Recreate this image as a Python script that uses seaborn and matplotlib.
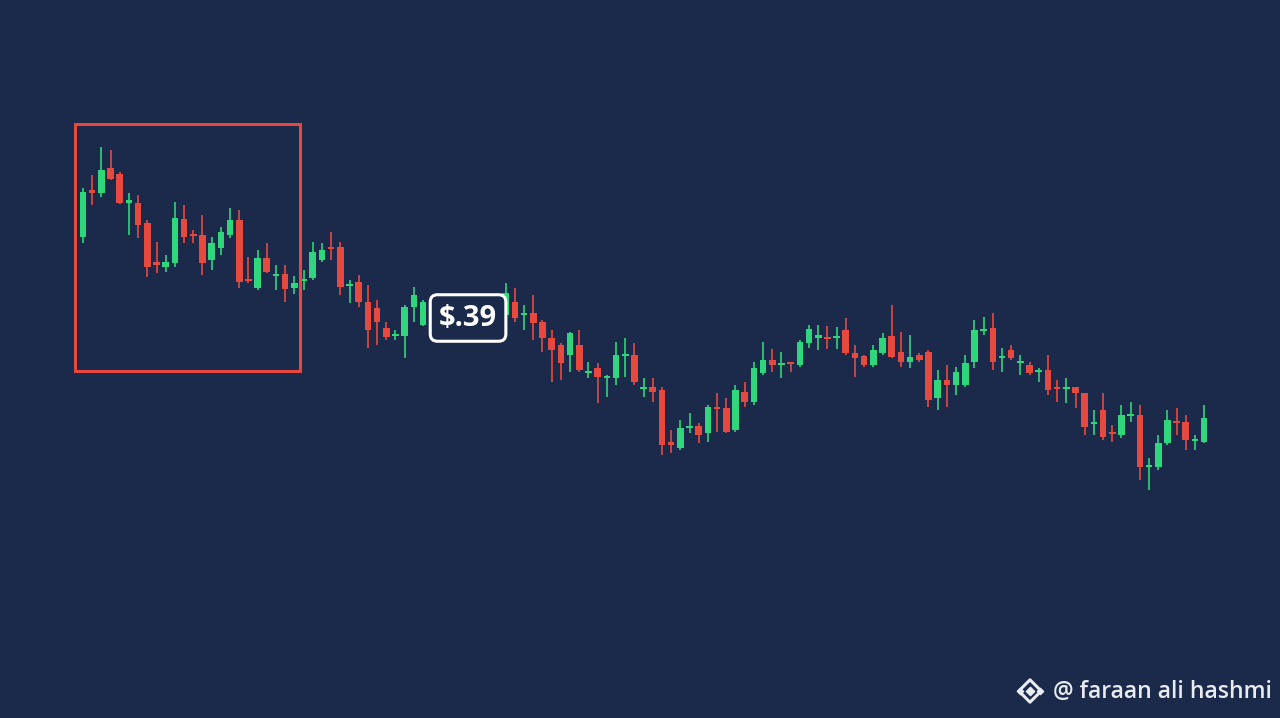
import numpy as np
import matplotlib
matplotlib.use("Agg")
import matplotlib.pyplot as plt
import matplotlib.patches as patches
import seaborn as sns

# Colours
bg = "#1b2a4a"
up_color = "#2fd67b"
down_color = "#e8493f"

nan = np.nan

# OHLC prices (8 candles hidden behind the price tag)
opens = [.471, .517, .515, .540, .534, .505, .505, .485, .446, .441,
         .445, .489, .474, .473, .448, .460, .473, .488, .429, .420,
         .450, .432, .434, .420, .427, .430, .448, .461, .461, .422,
         .426, .406, .400, .380, .372, .372, .401, .383, nan, nan,
         nan, nan, nan, nan, nan, nan, .393, .406, .393, .395,
         .386, .370, .363, .353, .363, .335, .340, .330, .330, .352,
         .353, .319, .321, .318, .266, .260, .280, .282, .275, .301,
         .300, .278, .316, .306, .335, .348, .343, .346, .343, .365,
         .370, .371, .370, .378, .355, .352, .343, .355, .372, .356,
         .346, .353, .356, .310, .328, .323, .323, .346, .377, .380,
         .350, .358, .345, .343, .336, .338, .321, .319, .321, .315,
         .284, .298, .276, .273, .292, .293, .241, .241, .265, .287,
         .286, .267, .266]
highs = [.520, .533, .561, .558, .536, .515, .513, .488, .466, .453,
         .506, .503, .478, .493, .471, .481, .500, .498, .451, .458,
         .465, .443, .443, .432, .438, .466, .465, .476, .466, .428,
         .433, .423, .408, .386, .378, .403, .421, .408, nan, nan,
         nan, nan, nan, nan, nan, nan, .425, .420, .403, .413,
         .388, .378, .365, .376, .378, .346, .345, .333, .366, .370,
         .365, .330, .330, .321, .278, .288, .295, .285, .303, .315,
         .310, .323, .326, .346, .366, .359, .356, .346, .368, .383,
         .383, .382, .381, .390, .363, .353, .363, .375, .403, .376,
         .373, .355, .358, .338, .343, .341, .353, .388, .391, .395,
         .360, .363, .353, .346, .340, .353, .328, .330, .321, .315,
         .298, .315, .283, .303, .306, .303, .250, .273, .298, .300,
         .293, .273, .303]
lows = [.465, .503, .511, .528, .504, .473, .470, .431, .435, .436,
        .441, .465, .465, .433, .438, .453, .470, .420, .425, .418,
        .435, .418, .406, .414, .418, .428, .446, .448, .413, .405,
        .401, .360, .363, .368, .368, .350, .386, .382, nan, nan,
        nan, nan, nan, nan, nan, nan, .391, .386, .378, .368,
        .356, .326, .328, .336, .336, .330, .305, .311, .323, .331,
        .323, .311, .306, .253, .255, .258, .275, .265, .266, .276,
        .275, .276, .301, .303, .333, .336, .330, .336, .341, .360,
        .358, .359, .359, .353, .331, .341, .341, .353, .350, .341,
        .340, .346, .301, .298, .301, .313, .321, .340, .373, .338,
        .336, .348, .333, .333, .326, .313, .306, .305, .300, .273,
        .273, .268, .266, .270, .286, .228, .218, .238, .263, .273,
        .258, .258, .265]
closes = [.516, .515, .538, .529, .505, .508, .483, .441, .443, .446,
          .490, .471, .472, .445, .465, .476, .488, .426, .427, .450,
          .436, .434, .419, .425, .429, .456, .458, .459, .421, .424,
          .406, .378, .386, .371, .374, .401, .413, .406, nan, nan,
          nan, nan, nan, nan, nan, nan, .415, .390, .395, .385,
          .370, .358, .345, .375, .338, .337, .331, .332, .353, .354,
          .326, .321, .316, .263, .263, .280, .282, .273, .301, .299,
          .276, .318, .306, .340, .348, .343, .345, .344, .366, .379,
          .373, .369, .372, .355, .350, .343, .358, .370, .351, .346,
          .351, .348, .308, .328, .323, .336, .345, .378, .379, .346,
          .352, .350, .347, .335, .338, .318, .319, .321, .315, .281,
          .286, .271, .274, .293, .294, .241, .243, .265, .288, .285,
          .268, .269, .290]

tag_price = 0.39
watermark = "@ faraan ali hashmi"

o = np.array(opens)
h = np.array(highs)
l = np.array(lows)
c = np.array(closes)
x = np.arange(len(o))
ok = ~np.isnan(o)
x, o, h, l, c = x[ok], o[ok], h[ok], l[ok], c[ok]
colors = np.where(c >= o, up_color, down_color)

sns.set_theme(style="dark", rc={"axes.facecolor": bg, "figure.facecolor": bg})
plt.rcParams['font.family'] = ['Open Sans', 'DejaVu Sans']

fig = plt.figure(figsize=(12.8, 7.18), dpi=100)
ax = fig.add_axes([0, 0, 1, 1])

# wicks and bodies
ax.vlines(x, l, h, colors=colors, linewidth=1.2)
body = np.maximum(np.abs(c - o), 0.0025)
ax.bar(x, body, bottom=np.minimum(o, c), width=0.72, color=colors, linewidth=0)

ax.set_xlim(-9.03, 130.25)
ax.set_ylim(-0.010, 0.708)
ax.axis("off")

# highlight box around the first candles
ax.add_patch(patches.Rectangle((-0.9, 0.337), 24.5, 0.247, fill=False,
                               edgecolor=down_color, linewidth=2.2, zorder=5))

# price tag
ax.text(41.9, tag_price, "$.39", ha="center", va="center", fontsize=21,
        fontweight="bold", color="white", zorder=6,
        bbox=dict(boxstyle="round,pad=0.3,rounding_size=0.25", fc=bg,
                  ec="white", lw=2.2))

# watermark
fig.text(1272 / 1280, 1 - 698 / 718, watermark, ha="right", va="baseline",
         fontsize=16.6, fontweight="semibold", color="#e8ebf0")
lx, ly = 1030 / 1280, 1 - 691 / 718
fig_tr = fig.transFigure
ax.scatter([lx], [ly], marker="D", s=130, facecolors="none",
           edgecolors="#e8ebf0", linewidths=2.2, transform=fig_tr, clip_on=False)
ax.scatter([lx], [ly], marker="D", s=18, color="#e8ebf0",
           transform=fig_tr, clip_on=False)
ax.scatter([lx - 10 / 1280, lx + 10 / 1280], [ly, ly], marker="D", s=10,
           color="#e8ebf0", transform=fig_tr, clip_on=False)

plt.savefig("out.png", dpi=100, facecolor=bg)
